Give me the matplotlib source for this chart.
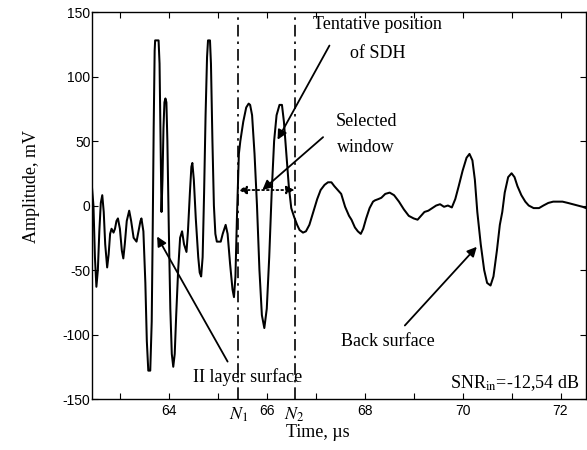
import numpy as np
import matplotlib
matplotlib.use('Agg')
import matplotlib.pyplot as plt
from matplotlib import transforms

plt.rcParams['font.family'] = 'Liberation Sans'
plt.rcParams['mathtext.fontset'] = 'stix'
plt.rcParams['axes.unicode_minus'] = False

# signal (time in us, amplitude in mV)
time_us = [62.43, 62.46, 62.49, 62.52, 62.55, 62.58, 62.61, 62.64, 62.67, 62.70,
           62.74, 62.77, 62.80, 62.83, 62.87, 62.90, 62.93, 62.96, 63.00, 63.04,
           63.07, 63.10, 63.14, 63.19, 63.23, 63.28, 63.34, 63.38, 63.42, 63.44,
           63.48, 63.52, 63.55, 63.58, 63.62, 63.65, 63.67, 63.69, 63.71, 63.72,
           63.79, 63.81, 63.83, 63.85, 63.87, 63.89, 63.91, 63.93, 63.95, 63.97,
           64.00, 64.03, 64.06, 64.09, 64.12, 64.15, 64.19, 64.23, 64.27, 64.31,
           64.36, 64.39, 64.43, 64.46, 64.48, 64.51, 64.55, 64.60, 64.63, 64.66,
           64.69, 64.72, 64.75, 64.78, 64.80, 64.84, 64.86, 64.89, 64.92, 64.95,
           64.98, 65.06, 65.10, 65.16, 65.20, 65.25, 65.30, 65.33, 65.36, 65.39,
           65.43, 65.46, 65.52, 65.58, 65.63, 65.66, 65.70, 65.75, 65.80, 65.85,
           65.90, 65.95, 66.00, 66.05, 66.10, 66.15, 66.20, 66.26, 66.31, 66.35,
           66.40, 66.45, 66.50, 66.56, 66.62, 66.67, 66.74, 66.80, 66.87, 66.95,
           67.03, 67.10, 67.18, 67.25, 67.32, 67.38, 67.45, 67.52, 67.60, 67.68,
           67.73, 67.80, 67.86, 67.92, 67.97, 68.03, 68.10, 68.17, 68.21, 68.28,
           68.34, 68.42, 68.51, 68.60, 68.70, 68.80, 68.90, 69.00, 69.08, 69.15,
           69.22, 69.30, 69.38, 69.46, 69.54, 69.62, 69.70, 69.78, 69.85, 69.92,
           70.00, 70.08, 70.14, 70.20, 70.25, 70.30, 70.37, 70.44, 70.50, 70.57,
           70.63, 70.70, 70.76, 70.81, 70.86, 70.93, 71.00, 71.06, 71.12, 71.20,
           71.28, 71.35, 71.45, 71.56, 71.65, 71.75, 71.85, 71.95, 72.04, 72.15,
           72.25, 72.35, 72.45, 72.52]
amp_mv = [14, 0, -40, -63, -50, -20, 2, 8, -5, -30,
          -48, -38, -22, -18, -21, -18, -12, -10, -18, -35,
          -41, -30, -12, -4, -12, -25, -28, -20, -12, -10,
          -20, -60, -105, -128, -128, -90, -20, 60, 120, 128,
          128, 110, 50, -5, 20, 60, 80, 83, 80, 50,
          -20, -80, -115, -125, -115, -85, -50, -25, -20, -30,
          -36, -20, 10, 30, 33, 20, -10, -40, -52, -55,
          -40, 10, 70, 115, 128, 128, 110, 50, 0, -22,
          -28, -28, -22, -15, -22, -45, -65, -71, -55, -10,
          40, 50, 65, 76, 79, 78, 70, 40, 0, -50,
          -85, -95, -80, -40, 10, 50, 70, 78, 78, 65,
          40, 15, -2, -9, -15, -19, -21, -20, -15, -5,
          5, 12, 16, 18, 18, 15, 12, 9, -1, -8,
          -11, -17, -20, -22, -18, -10, -2, 3, 4, 5,
          6, 9, 10, 8, 3, -3, -8, -10, -11, -8,
          -5, -4, -2, 0, 1, -1, 0, -1.5, 5, 15,
          27, 37, 40, 35, 20, -5, -30, -50, -60, -62,
          -55, -35, -15, -5, 10, 22, 25, 22, 15, 8,
          3, 0, -2, -2, 0, 2, 3, 3, 3, 2,
          1, 0, -1, -2]

N1 = 65.42
N2 = 66.57
x_ticks = list(range(63, 73))
x_labels = ['', '64', '', '66', '', '68', '', '70', '', '72']
y_ticks = [-150, -100, -50, 0, 50, 100, 150]

serif = 'Liberation Serif'

fig = plt.figure(figsize=(5.87, 4.5), dpi=100)
ax = fig.add_axes([0.1567, 0.1133, 0.8416, 0.86])

ax.plot(time_us, amp_mv, color='black', lw=1.45)

ax.axvline(N1, color='black', ls=(0, (7, 3, 1.5, 3)), lw=1.2)
ax.axvline(N2, color='black', ls=(0, (7, 3, 1.5, 3)), lw=1.2)

ax.set_xlim(62.43, 72.52)
ax.set_ylim(-150, 150)
ax.set_xticks(x_ticks)
ax.set_xticklabels(x_labels)
ax.set_yticks(y_ticks)
ax.tick_params(direction='in', top=True, right=True, length=4, width=0.8,
               labelsize=10)
ax.tick_params(axis='y', pad=1)
for s in ax.spines.values():
    s.set_linewidth(1.0)

# N1 / N2 labels under the axis
trans = transforms.blended_transform_factory(ax.transData, ax.transAxes)
ax.text(N1, -0.018, '$N_1$', transform=trans, ha='center', va='top', fontsize=13)
ax.text(N2, -0.018, '$N_2$', transform=trans, ha='center', va='top', fontsize=13)

ax.set_xlabel('Time, µs', family=serif, fontsize=13)
ax.xaxis.set_label_coords(0.457, -0.065)
ax.set_ylabel('Amplitude, mV', family=serif, fontsize=13)
ax.yaxis.set_label_coords(-0.105, 0.548)

arrow = dict(arrowstyle='-|>', color='black', lw=1.3, mutation_scale=14,
             shrinkA=0, shrinkB=0)

ax.text(68.26, 140, 'Tentative position', family=serif, fontsize=13,
        ha='center', va='center')
ax.text(68.26, 118, 'of SDH', family=serif, fontsize=13,
        ha='center', va='center')
ax.annotate('', xy=(66.22, 51), xytext=(67.28, 124), arrowprops=arrow)

ax.text(68.03, 65, 'Selected', family=serif, fontsize=13,
        ha='center', va='center')
ax.text(68.03, 45, 'window', family=serif, fontsize=13,
        ha='center', va='center')
ax.annotate('', xy=(65.91, 12), xytext=(67.15, 53), arrowprops=arrow)

ax.annotate('', xy=(N1, 12), xytext=(N2, 12),
            arrowprops=dict(arrowstyle='<|-|>', color='black', lw=1.3, ls=':',
                            mutation_scale=12, shrinkA=0, shrinkB=0))

ax.text(65.61, -133, 'II layer surface', family=serif, fontsize=13,
        ha='center', va='center')
ax.annotate('', xy=(63.76, -24), xytext=(65.2, -121), arrowprops=arrow)

ax.text(68.48, -105.5, 'Back surface', family=serif, fontsize=13,
        ha='center', va='center')
ax.annotate('', xy=(70.29, -32), xytext=(68.82, -93), arrowprops=arrow)

ax.text(72.39, -137.5, r'SNR$_{\rm in}$=-12,54 dB', family=serif, fontsize=13,
        ha='right', va='center')

fig.savefig('out.png', dpi=100)
